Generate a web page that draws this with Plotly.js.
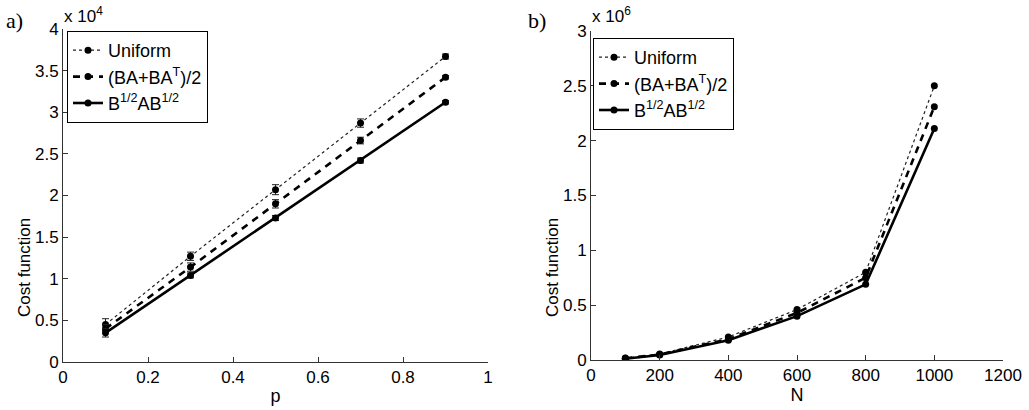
<!DOCTYPE html>
<html>
<head>
<meta charset="utf-8">
<script src="https://cdn.plot.ly/plotly-3.0.1.min.js"></script>
<style>
  html, body { margin: 0; padding: 0; background: #fff; }
  #chart { width: 1029px; height: 410px; }
</style>
</head>
<body>
<div id="chart"></div>
<script>
// ---- Panel a) : cost (x 10^4) versus p ----
const pValues = [0.1, 0.3, 0.5, 0.7, 0.9];
const costUniformP = [0.45, 1.27, 2.07, 2.87, 3.67];
const costSymP     = [0.40, 1.14, 1.90, 2.66, 3.42];
const costSqrtP    = [0.35, 1.04, 1.73, 2.42, 3.12];
const errUniformP  = [0.07, 0.05, 0.06, 0.05, 0.03];
const errSymP      = [0.05, 0.05, 0.05, 0.04, 0.02];
const errSqrtP     = [0.05, 0.03, 0.03, 0.03, 0.02];

// ---- Panel b) : cost (x 10^6) versus N ----
const nValues = [100, 200, 400, 600, 800, 1000];
const costUniformN = [0.018, 0.055, 0.21, 0.46, 0.80, 2.50];
const costSymN     = [0.015, 0.050, 0.19, 0.43, 0.75, 2.31];
const costSqrtN    = [0.012, 0.045, 0.18, 0.40, 0.69, 2.11];

// ---- labels ----
const seriesNames = ['Uniform', '(BA+BA<sup>T</sup>)/2', 'B<sup>1/2</sup>AB<sup>1/2</sup>'];
const yTicksA = [0, 0.5, 1, 1.5, 2, 2.5, 3, 3.5, 4];
const yTickTextA = ['0', '0.5', '1', '1.5', '2', '2.5', '3', '3.5', '4'];
const xTicksA = [0, 0.2, 0.4, 0.6, 0.8, 1];
const xTickTextA = ['0', '0.2', '0.4', '0.6', '0.8', '1'];
const yTicksB = [0, 0.5, 1, 1.5, 2, 2.5, 3];
const yTickTextB = ['0', '0.5', '1', '1.5', '2', '2.5', '3'];
const xTicksB = [0, 200, 400, 600, 800, 1000, 1200];
const xTickTextB = ['0', '200', '400', '600', '800', '1000', '1200'];

const FONT = 'Liberation Sans, Arial, Helvetica, sans-serif';
const styles = [
  {color: '#222', width: 1.2, dash: 'dot'},
  {color: '#000', width: 2.6, dash: '7px,6px'},
  {color: '#000', width: 2.6, dash: 'solid'}
];

function mk(x, y, err, i, ax, legend) {
  const t = {
    x: x, y: y, name: seriesNames[i], type: 'scatter', mode: 'lines+markers',
    xaxis: ax.x, yaxis: ax.y, legend: legend,
    line: styles[i],
    marker: {symbol: 'circle', size: 7, color: '#000'}
  };
  if (err) {
    t.error_y = {type: 'data', array: err, visible: true, color: '#222', thickness: 1, width: 3.5};
  }
  return t;
}

const A = {x: 'x', y: 'y'};
const B = {x: 'x2', y: 'y2'};
const data = [
  mk(pValues, costUniformP, errUniformP, 0, A, 'legend'),
  mk(pValues, costSymP, errSymP, 1, A, 'legend'),
  mk(pValues, costSqrtP, errSqrtP, 2, A, 'legend'),
  mk(nValues, costUniformN, null, 0, B, 'legend2'),
  mk(nValues, costSymN, null, 1, B, 'legend2'),
  mk(nValues, costSqrtN, null, 2, B, 'legend2')
];

const axBase = {
  showline: true, linecolor: '#333', linewidth: 1, mirror: false,
  ticks: 'inside', ticklen: 5, tickcolor: '#333', tickwidth: 1,
  showgrid: false, zeroline: false, fixedrange: true,
  tickfont: {family: FONT, size: 17, color: '#000'}
};
const W = 1029, H = 410;
const legendBase = {
  bgcolor: '#fff', bordercolor: '#000', borderwidth: 1,
  font: {family: FONT, size: 18, color: '#000'},
  itemwidth: 30, tracegroupgap: 0, xanchor: 'left', yanchor: 'top'
};
const txt = (s, x, y, opts) => Object.assign({
  text: s, xref: 'paper', yref: 'paper', x: x / W, y: 1 - y / H,
  showarrow: false, font: {family: FONT, size: 17, color: '#000'}
}, opts || {});

const layout = {
  width: W, height: H,
  margin: {l: 0, r: 0, t: 0, b: 0},
  paper_bgcolor: '#fff', plot_bgcolor: '#fff',
  font: {family: FONT, size: 17, color: '#000'},
  showlegend: true,
  xaxis: Object.assign({}, axBase, {
    domain: [63 / W, 488 / W], range: [0, 1], anchor: 'y',
    tickvals: xTicksA, ticktext: xTickTextA,
    title: {text: 'p', font: {family: FONT, size: 18}, standoff: 2}
  }),
  yaxis: Object.assign({}, axBase, {
    domain: [1 - 362 / H, 1 - 29 / H], range: [0, 4], anchor: 'x',
    tickvals: yTicksA, ticktext: yTickTextA
  }),
  xaxis2: Object.assign({}, axBase, {
    domain: [591 / W, 1003 / W], range: [0, 1200], anchor: 'y2',
    tickvals: xTicksB, ticktext: xTickTextB,
    title: {text: 'N', font: {family: FONT, size: 18}, standoff: 2}
  }),
  yaxis2: Object.assign({}, axBase, {
    domain: [1 - 360 / H, 1 - 31 / H], range: [0, 3], anchor: 'x2',
    tickvals: yTicksB, ticktext: yTickTextB
  }),
  legend: Object.assign({}, legendBase, {x: 67 / W, y: 1 - 31 / H}),
  legend2: Object.assign({}, legendBase, {x: 593 / W, y: 1 - 38 / H}),
  annotations: [
    txt('a)', 4, 6, {xanchor: 'left', yanchor: 'top',
      font: {family: 'Liberation Serif, Times New Roman, serif', size: 22, color: '#000'}}),
    txt('b)', 526, 6, {xanchor: 'left', yanchor: 'top',
      font: {family: 'Liberation Serif, Times New Roman, serif', size: 22, color: '#000'}}),
    txt('x 10<sup>4</sup>', 62, 2, {xanchor: 'left', yanchor: 'top'}),
    txt('x 10<sup>6</sup>', 590, 2, {xanchor: 'left', yanchor: 'top'}),
    txt('Cost function', 24, 268, {xanchor: 'center', yanchor: 'middle', textangle: -90}),
    txt('Cost function', 552, 268, {xanchor: 'center', yanchor: 'middle', textangle: -90})
  ]
};

Plotly.newPlot('chart', data, layout, {displayModeBar: false, staticPlot: true});
</script>
</body>
</html>
